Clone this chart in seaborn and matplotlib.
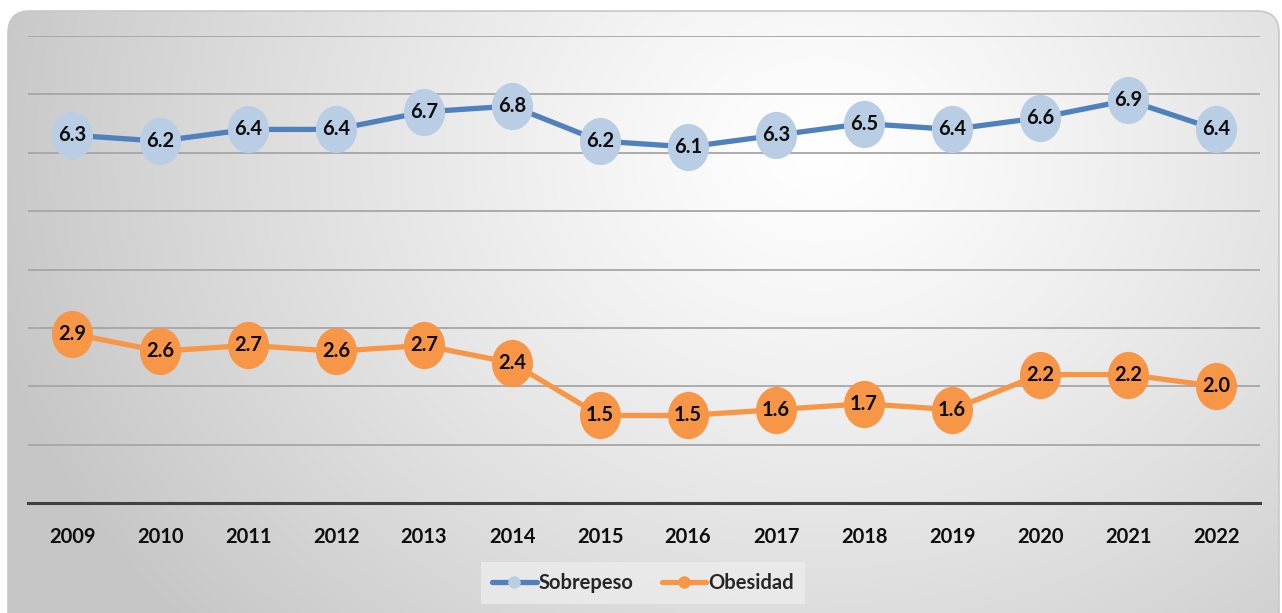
import numpy as np
import pandas as pd
import matplotlib
matplotlib.use("Agg")
import matplotlib.pyplot as plt
import seaborn as sns
from matplotlib.path import Path
from matplotlib.patches import FancyBboxPatch
from matplotlib.lines import Line2D

# -----------------------------
# Data
# -----------------------------
years = ["2009", "2010", "2011", "2012", "2013", "2014", "2015",
         "2016", "2017", "2018", "2019", "2020", "2021", "2022"]
sobrepeso = [6.3, 6.2, 6.4, 6.4, 6.7, 6.8, 6.2, 6.1, 6.3, 6.5, 6.4, 6.6, 6.9, 6.4]
obesidad = [2.9, 2.6, 2.7, 2.6, 2.7, 2.4, 1.5, 1.5, 1.6, 1.7, 1.6, 2.2, 2.2, 2.0]
series_names = ["Sobrepeso", "Obesidad"]

df = pd.DataFrame({
    "year": years * 2,
    "value": sobrepeso + obesidad,
    "serie": [series_names[0]] * len(years) + [series_names[1]] * len(years),
})

# -----------------------------
# Style
# -----------------------------
sns.set_theme(style="white")
plt.rcParams["font.family"] = ["Lato", "DejaVu Sans"]

line_colors = {"Sobrepeso": "#4f81bd", "Obesidad": "#f79646"}
marker_colors = {"Sobrepeso": "#b9cde5", "Obesidad": "#f79646"}

# slightly tall ellipse marker
circ = Path.unit_circle()
ellipse = Path(circ.vertices * np.array([1.0, 1.15]), circ.codes)

fig = plt.figure(figsize=(12.82, 6.13), dpi=100)

# -----------------------------
# Background (radial gradient in rounded box)
# -----------------------------
bg = fig.add_axes([0, 0, 1, 1], zorder=-1)
bg.set_xlim(0, 1282)
bg.set_ylim(613, 0)
bg.axis("off")
xx, yy = np.meshgrid(np.linspace(0, 1282, 400), np.linspace(0, 613, 200))
dist = np.sqrt((xx - 820) ** 2 + ((yy - 150) * 1.2) ** 2)
t = np.clip(dist / 850, 0, 1)
shade = 1.0 - 0.22 * t ** 1.2
img = bg.imshow(np.dstack([shade, shade, shade]), extent=(0, 1282, 613, 0),
                aspect="auto", interpolation="bilinear")
box = FancyBboxPatch((8, 11), 1271, 640, boxstyle="round,pad=0,rounding_size=22",
                     facecolor="none", edgecolor="#c8c8c8", lw=1.2)
bg.add_patch(box)
img.set_clip_path(box)

# -----------------------------
# Main chart
# -----------------------------
ax = fig.add_axes([28 / 1282, 110 / 613, 1232 / 1282, 467 / 613])
ax.set_facecolor("none")

for name in series_names:
    sub = df[df["serie"] == name]
    sns.lineplot(data=sub, x="year", y="value", ax=ax, color=line_colors[name],
                 lw=3.8, marker=ellipse, markersize=34,
                 markerfacecolor=marker_colors[name], markeredgecolor=marker_colors[name],
                 markeredgewidth=0, sort=False, zorder=3)
    for i, v in enumerate(sub["value"]):
        ax.text(i, v, f"{v:.1f}", ha="center", va="center", fontsize=14.5,
                fontweight="bold", color="#0d0d0d", zorder=5)

ax.set_xlim(-0.5, len(years) - 0.5)
ax.set_ylim(0, 8)
ax.set_yticks(np.arange(1, 9))
ax.set_yticklabels([])
ax.grid(axis="y", color="#a6a6a6", lw=1.3)
ax.grid(axis="x", visible=False)
ax.set_axisbelow(True)
ax.set_xlabel("")
ax.set_ylabel("")
for s in ["top", "left", "right"]:
    ax.spines[s].set_visible(False)
ax.spines["bottom"].set_color("#404040")
ax.spines["bottom"].set_linewidth(2.2)
ax.tick_params(axis="x", length=0, pad=17, labelsize=14.5)
ax.tick_params(axis="y", length=0)
for lbl in ax.get_xticklabels():
    lbl.set_fontweight("bold")
    lbl.set_color("#0d0d0d")

handles = [Line2D([0], [0], color=line_colors[n], lw=3.8, marker="o", markersize=9,
                  markerfacecolor=marker_colors[n], markeredgewidth=0)
           for n in series_names]
leg = fig.legend(handles, series_names, loc="center", bbox_to_anchor=(643 / 1282, 1 - 583 / 613),
                 ncol=2, frameon=True, fancybox=False, handlelength=2.2, handletextpad=0.1,
                 columnspacing=1.4, borderpad=0.55, prop={"weight": "bold", "size": 14.5})
leg.get_frame().set_facecolor("#ececec")
leg.get_frame().set_edgecolor("none")

fig.savefig("out.png", dpi=100)
plt.close(fig)
